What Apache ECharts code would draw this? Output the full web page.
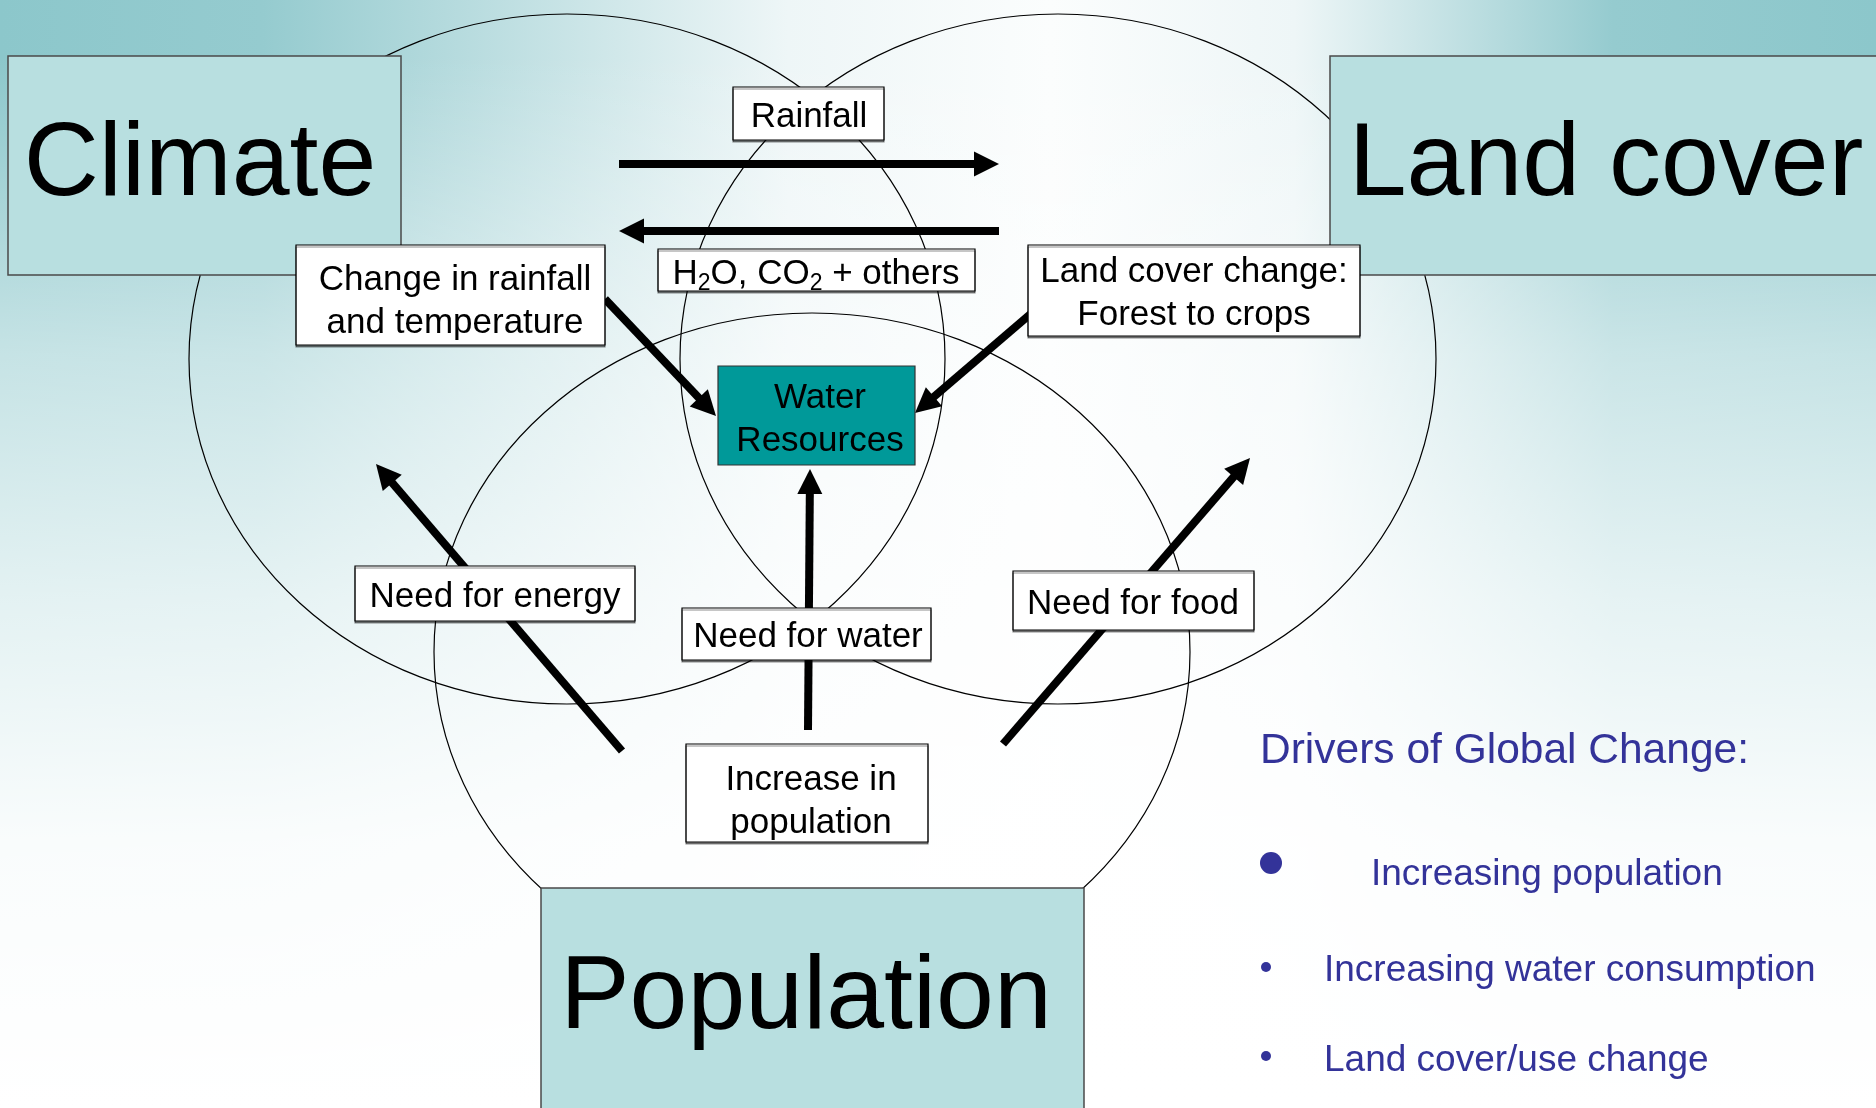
<!DOCTYPE html>
<html><head><meta charset="utf-8">
<script src="https://cdn.jsdelivr.net/npm/echarts@6/dist/echarts.min.js"></script>
<style>html,body{margin:0;padding:0;overflow:hidden;background:#fff}#c{width:1876px;height:1108px}</style>
</head><body><div id="c"></div>
<script>
// ---- content ----
const domainLabels = ['Climate', 'Land cover', 'Population'];
const linkLabels = ['Rainfall', 'H2O, CO2 + others', 'Change in rainfall\nand temperature',
  'Land cover change:\nForest to crops', 'Need for energy', 'Need for water', 'Need for food',
  'Increase in\npopulation'];
const centerLabel = 'Water\nResources';
const legendTitle = 'Drivers of Global Change:';
const legendItems = ['Increasing population', 'Increasing water consumption', 'Land cover/use change'];

// ---- layout (pixels) ----
const domainBoxes = [[8, 56, 393, 219], [1330, 56, 560, 219], [541, 888, 543, 224]];
const domainTextPos = [[200, 166], [1606, 166], [806, 999]];
const ellipses = [[567, 359, 378, 345], [1058, 359, 378, 345], [812, 652, 378, 339]];
const linkBoxes = [[733, 87, 151, 53], [658, 249, 317, 42], [296, 245, 309, 100], [1028, 245, 332, 91],
  [355, 566, 280, 55], [682, 608, 249, 52], [1013, 571, 241, 59], [686, 744, 242, 98]];
const linkTextPos = [[809, 117], [816, 274], [455, 302], [1194, 294], [495, 597], [808, 637], [1133, 604], [811, 802]];
const centerBox = [718, 366, 197, 99];
const centerTextPos = [820, 420];
const arrows = [[619, 164, 999, 164], [999, 231, 619, 231], [605, 299, 716, 416], [1034, 311, 915, 413],
  [808, 730, 810, 469], [622, 751, 376, 464], [1003, 744, 1250, 458]];
const legendTitlePos = [1260, 751];
const legendTextPos = [[1371, 875], [1324, 971], [1324, 1061]];
const legendDots = [[1271, 863, 11], [1266, 967, 5], [1266, 1056, 5]];

const FONT = '"Liberation Sans", Arial, Helvetica, sans-serif';
const els = [];

// background
els.push({ type: 'rect', z: 0, shape: { x: 0, y: 0, width: 1876, height: 1108 },
  style: { fill: { type: 'linear', x: 0, y: 0, x2: 1, y2: 0, colorStops: [
    { offset: 0, color: '#8cc7cb' }, { offset: 0.14, color: '#95cbcf' }, { offset: 0.42, color: '#eef6f7' },
    { offset: 0.56, color: '#fbfdfd' }, { offset: 0.69, color: '#eef6f7' }, { offset: 0.86, color: '#95cbcf' },
    { offset: 1, color: '#8cc7cb' }] } } });
els.push({ type: 'rect', z: 0, shape: { x: 0, y: 0, width: 1876, height: 1108 },
  style: { fill: { type: 'linear', x: 0, y: 0, x2: 0, y2: 1, colorStops: [
    { offset: 0, color: 'rgba(255,255,255,0)' }, { offset: 0.05, color: 'rgba(255,255,255,0)' },
    { offset: 0.32, color: 'rgba(255,255,255,0.5)' }, { offset: 0.54, color: 'rgba(255,255,255,0.76)' },
    { offset: 0.76, color: 'rgba(255,255,255,0.95)' }, { offset: 1, color: 'rgba(255,255,255,1)' }] } } });

// ellipses
ellipses.forEach(e => els.push({ type: 'ellipse', z: 1,
  shape: { cx: e[0], cy: e[1], rx: e[2], ry: e[3] }, style: { fill: null, stroke: '#000', lineWidth: 1.2 } }));

// arrows
arrows.forEach(a => {
  const [x1, y1, x2, y2] = a;
  const dx = x2 - x1, dy = y2 - y1, L = Math.hypot(dx, dy), ux = dx / L, uy = dy / L;
  const hl = 25, hw = 12.5, bx = x2 - ux * hl, by = y2 - uy * hl, px = -uy, py = ux;
  els.push({ type: 'line', z: 2, shape: { x1, y1, x2: bx + ux * 2, y2: by + uy * 2 },
    style: { stroke: '#000', lineWidth: 8 } });
  els.push({ type: 'polygon', z: 2, shape: { points: [[x2, y2], [bx + px * hw, by + py * hw], [bx - px * hw, by - py * hw]] },
    style: { fill: '#000' } });
});

function centeredText(txt, cx, cy, size, color, z) {
  return { type: 'text', z, x: cx, y: cy,
    style: { text: txt, font: size + 'px ' + FONT, fontSize: size, fontFamily: FONT, fill: color,
      align: 'center', verticalAlign: 'middle', textAlign: 'center', textVerticalAlign: 'middle',
      lineHeight: Math.round(size * 1.22) } };
}

// domain boxes
domainBoxes.forEach((b, i) => {
  els.push({ type: 'rect', z: 3, shape: { x: b[0], y: b[1], width: b[2], height: b[3] },
    style: { fill: '#b8dfe0', stroke: '#4a4a4a', lineWidth: 1.5 } });
  els.push(centeredText(domainLabels[i], domainTextPos[i][0], domainTextPos[i][1], 104, '#000', 4));
});

// link boxes
linkBoxes.forEach((b, i) => {
  els.push({ type: 'rect', z: 3, shape: { x: b[0], y: b[1], width: b[2], height: b[3] },
    style: { fill: '#fff', stroke: '#000', lineWidth: 1.2, shadowColor: 'rgba(0,0,0,0.45)', shadowOffsetY: 2, shadowBlur: 0 } });
  const p = linkTextPos[i];
  if (i === 1) {
    els.push({ type: 'text', z: 4, x: p[0], y: p[1],
      style: { text: '{n|H}{s|2}{n|O, CO}{s|2}{n| + others}', fill: '#000',
        align: 'center', verticalAlign: 'middle', textAlign: 'center', textVerticalAlign: 'middle',
        rich: { n: { fontSize: 35, fontFamily: FONT, lineHeight: 40, fill: '#000' },
                s: { fontSize: 23, fontFamily: FONT, lineHeight: 20, padding: [20, 0, 0, 0], fill: '#000' } } } });
  } else {
    els.push(centeredText(linkLabels[i], p[0], p[1], 35, '#000', 4));
  }
});

// centre box
els.push({ type: 'rect', z: 3, shape: { x: centerBox[0], y: centerBox[1], width: centerBox[2], height: centerBox[3] },
  style: { fill: '#009999', stroke: '#333', lineWidth: 1.2 } });
els.push(centeredText(centerLabel, centerTextPos[0], centerTextPos[1], 35, '#000', 4));

// legend
els.push({ type: 'text', z: 4, x: legendTitlePos[0], y: legendTitlePos[1],
  style: { text: legendTitle, font: '42.5px ' + FONT, fontSize: 42.5, fontFamily: FONT, fill: '#333399',
    align: 'left', verticalAlign: 'middle', textAlign: 'left', textVerticalAlign: 'middle' } });
legendItems.forEach((t, i) => {
  const d = legendDots[i];
  els.push({ type: 'circle', z: 4, shape: { cx: d[0], cy: d[1], r: d[2] }, style: { fill: '#333399' } });
  els.push({ type: 'text', z: 4, x: legendTextPos[i][0], y: legendTextPos[i][1],
    style: { text: t, font: '37px ' + FONT, fontSize: 37, fontFamily: FONT, fill: '#333399',
      align: 'left', verticalAlign: 'middle', textAlign: 'left', textVerticalAlign: 'middle' } });
});

const chart = echarts.init(document.getElementById('c'), null, { renderer: 'canvas' });
chart.setOption({ animation: false, graphic: { elements: els } });
</script>
</body></html>
